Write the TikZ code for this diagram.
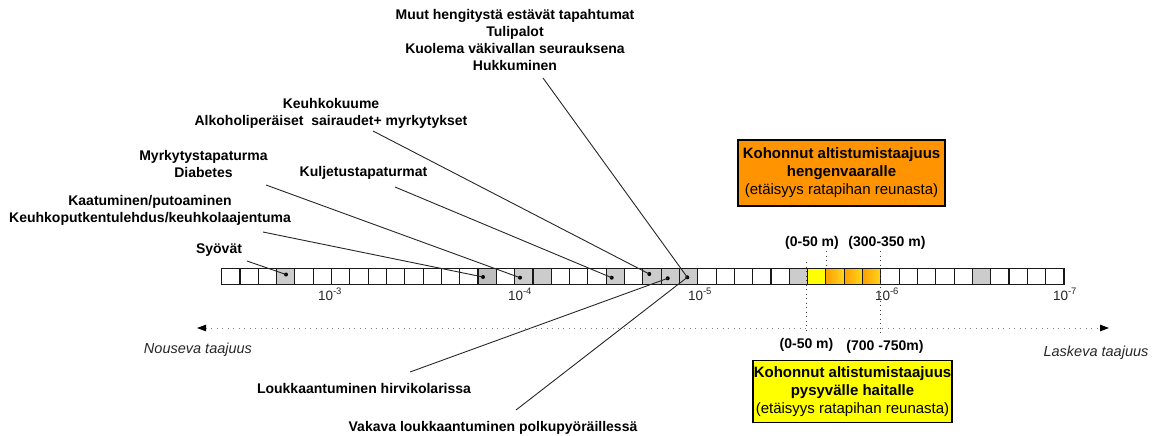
\documentclass[tikz,border=0pt]{standalone}
\usepackage{fontspec}
\setmainfont{Liberation Sans}
\usetikzlibrary{arrows.meta}
\definecolor{boxorange}{RGB}{255,148,0}
\definecolor{boxyellow}{RGB}{255,255,0}
\definecolor{cellgray}{RGB}{204,204,204}
\definecolor{celldark}{RGB}{190,190,190}
\definecolor{cellorange}{RGB}{255,160,0}
\definecolor{cellyelor}{RGB}{255,215,30}
\begin{document}
\begin{tikzpicture}[x=1pt,y=-1pt,
  lbl/.style={font=\bfseries\fontsize{14}{17}\selectfont,align=center,inner sep=0pt},
  infobox/.style={draw=black,line width=1.1pt,align=center,inner sep=0pt,font=\fontsize{15}{18}\selectfont},
  cellbox/.style={draw=black!90,line width=1.1pt},
  con/.style={line width=0.9pt,draw=black!85},
  dotmark/.style={circle,fill=black,inner sep=0pt,minimum size=4pt},
  ticklbl/.style={font=\fontsize{13.5}{15}\selectfont,text=black!85,anchor=base,inner sep=0pt},
  distlbl/.style={font=\bfseries\fontsize{14}{16}\selectfont,inner sep=0pt},
  vdots/.style={line width=0.9pt,black!75,dash pattern=on 1pt off 3.5pt},
  dirlbl/.style={font=\itshape\fontsize{14.5}{16}\selectfont,inner sep=0pt,text=black!85},
]
\useasboundingbox (0,0) rectangle (1156,436);
\def\cw{18.31}
\def\xo{221.7}
% cell fills
\foreach \i in {3,16,17,21,23,24,25,31,41}{
  \fill[cellgray] ({\xo+\cw*\i},268.5) rectangle ++(\cw,16);
}
\fill[celldark] ({\xo+\cw*14},268.5) rectangle ++(\cw,16);
\fill[boxyellow] ({\xo+\cw*32},268.5) rectangle ++(\cw,16);
\foreach \i in {33,34,35}{
  \shade[left color=cellorange,right color=cellyelor] ({\xo+\cw*\i},268.5) rectangle ++(\cw,16);
}
% cell grid
\foreach \i in {0,...,45}{
  \draw[cellbox] ({\xo+\cw*\i},268.5) rectangle ++(\cw,16);
}
% dots
\node[dotmark] (d3) at (286,274.5) {};
\node[dotmark] (d14) at (483,277) {};
\node[dotmark] (d16) at (520,277.7) {};
\node[dotmark] (d21) at (611.7,277.7) {};
\node[dotmark] (d23) at (649.3,274) {};
\node[dotmark] (d24) at (667.7,278.3) {};
\node[dotmark] (d25) at (687.3,277.3) {};
% tick labels
\node[ticklbl] (t3) at (330,300) {10\textsuperscript{-3}};
\node[ticklbl] (t4) at (520,300) {10\textsuperscript{-4}};
\node[ticklbl] (t5) at (700,300) {10\textsuperscript{-5}};
\node[ticklbl] (t6) at (887,300) {10\textsuperscript{-6}};
\node[ticklbl] (t7) at (1065,300) {10\textsuperscript{-7}};
% labels
\node[lbl] (muut) at (515,39.5) {Muut hengitystä estävät tapahtumat\\Tulipalot\\Kuolema väkivallan seurauksena\\Hukkuminen};
\node[lbl] (keuh) at (331,113.3) {Keuhkokuume\\Alkoholiperäiset\ \ sairaudet+ myrkytykset};
\node[lbl] (myrk) at (203.5,164) {Myrkytystapaturma\\Diabetes};
\node[lbl] (kulj) at (363.5,173) {Kuljetustapaturmat};
\node[lbl] (kaat) at (150,210.5) {Kaatuminen/putoaminen\\Keuhkoputkentulehdus/keuhkolaajentuma};
\node[lbl] (syo) at (219,250) {Syövät};
\node[lbl] (louk) at (364,388) {Loukkaantuminen hirvikolarissa};
\node[lbl] (vak) at (493,428) {Vakava loukkaantuminen polkupyöräillessä};
% connector free ends
\coordinate (s-syo) at (247,261);
\coordinate (s-kaat) at (263,232);
\coordinate (s-myrk) at (266,185);
\coordinate (s-kulj) at (395,187);
\coordinate (s-keuh) at (373,131);
\coordinate (s-muut) at (543,78);
\coordinate (s-louk) at (410,372);
\coordinate (s-vak) at (516,410);
\draw[con] (s-syo) -- (d3.center);
\draw[con] (s-kaat) -- (d14.center);
\draw[con] (s-myrk) -- (d16.center);
\draw[con] (s-kulj) -- (d21.center);
\draw[con] (s-keuh) -- (d23.center);
\draw[con] (s-muut) -- (d25.center);
\draw[con] (s-louk) -- (d24.center);
\draw[con] (s-vak) -- (d25.center);
% distance markers
\coordinate (v1a) at (806.7,262); \coordinate (v1b) at (806.7,333);
\coordinate (v2a) at (826.7,251); \coordinate (v2b) at (826.7,266);
\coordinate (v3a) at (880.5,251); \coordinate (v3b) at (880.5,336);
\draw[vdots] (v1a) -- (v1b);
\draw[vdots] (v2a) -- (v2b);
\draw[vdots] (v3a) -- (v3b);
\node[distlbl] (d050t) at (812,242.7) {(0-50 m)};
\node[distlbl] (d300) at (887,242.7) {(300-350 m)};
\node[distlbl] (d050b) at (806.5,345) {(0-50 m)};
\node[distlbl] (d700) at (885,346.7) {(700 -750m)};
% frequency arrow
\coordinate (aL) at (197,328);
\coordinate (aR) at (1109,328);
\draw[line width=1pt,black!50,dash pattern=on 1.2pt off 4.3pt,
  {Triangle[length=9pt,width=6.5pt,color=black]}-{Triangle[length=9pt,width=6.5pt,color=black]}] (aL) -- (aR);
\node[dirlbl] (nous) at (198,350) {Nouseva taajuus};
\node[dirlbl] (lask) at (1096,352.7) {Laskeva taajuus};
% boxes
\node[infobox,fill=boxorange,minimum width=207pt,minimum height=66pt] (obox) at (841.5,173)
  {\textbf{Kohonnut altistumistaajuus}\\\textbf{hengenvaaralle}\\(etäisyys ratapihan reunasta)};
\node[infobox,fill=boxyellow,minimum width=199pt,minimum height=62pt] (ybox) at (852.5,391.5)
  {\textbf{Kohonnut altistumistaajuus}\\\textbf{pysyvälle haitalle}\\(etäisyys ratapihan reunasta)};
\end{tikzpicture}
\end{document}
